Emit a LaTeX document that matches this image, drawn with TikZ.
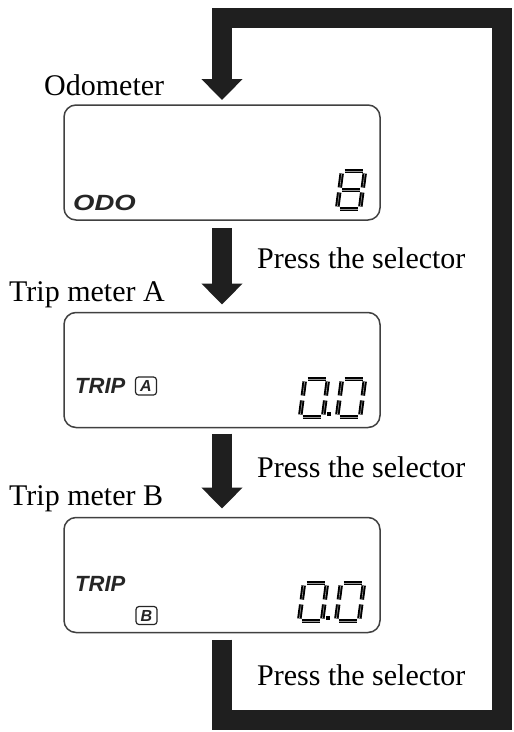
\documentclass[tikz,border=0pt]{standalone}
\usepackage{fontspec}
\setmainfont{Liberation Serif}
\newfontfamily\lcdfont{Liberation Sans}
\usetikzlibrary{arrows.meta}
\tikzset{
  lcd/.style={draw=black!75, line width=1.5pt, rounded corners=12pt, minimum width=316pt, minimum height=115pt, inner sep=0pt, outer sep=0pt},
  caption/.style={anchor=base west, inner sep=0pt, font=\fontsize{30}{31}\selectfont},
  lcdtext/.style={anchor=base west, inner sep=0pt, font=\lcdfont\bfseries\itshape\fontsize{22}{23}\selectfont, text=black!85},
  subbox/.style={draw=black!85, line width=1.2pt, rounded corners=3pt, inner sep=0pt, minimum width=21pt, minimum height=18pt, font=\lcdfont\bfseries\itshape\fontsize{16}{17}\selectfont, text=black!85},
  flow/.style={line width=20pt, draw=black!88, -{Triangle[length=21pt,width=40pt]}},
  seg/.style={draw=black, line width=1.9pt, double=black!40, double distance=0.6pt, line cap=butt}
}
% seven-segment digit: #1,#2 top-left corner; #3 list of segments
\newcommand\segdigit[3]{%
  \begin{scope}[shift={(#1,#2)}, xslant=0.13]
    \foreach \s in {#3}{%
      \ifcase\s
        \draw[seg] (2.5,0) -- (20.5,0);%  0 top
      \or \draw[seg] (0,2.5) -- (0,16.5);% 1 upper left
      \or \draw[seg] (23,2.5) -- (23,16.5);% 2 upper right
      \or \draw[seg] (2.5,19) -- (20.5,19);% 3 middle
      \or \draw[seg] (0,21.5) -- (0,35.5);% 4 lower left
      \or \draw[seg] (23,21.5) -- (23,35.5);% 5 lower right
      \or \draw[seg] (2.5,38) -- (20.5,38);% 6 bottom
      \fi}
  \end{scope}}
\begin{document}
\begin{tikzpicture}[x=1pt, y=-1pt]
\useasboundingbox (0,0) rectangle (514,732);
\fill[white] (0,0) rectangle (514,732);

% display boxes
\node[lcd] (b1) at (222,162.5) {};
\node[lcd] (b2) at (222,370) {};
\node[lcd] (b3) at (222,575) {};

% captions
\node[caption] (t1) at (44,95) {Odometer};
\node[caption] (t2) at (9,301) {Trip meter A};
\node[caption] (t3) at (9,505) {Trip meter B};
\node[caption] (p1) at (257,268) {Press the selector};
\node[caption] (p2) at (257,477) {Press the selector};
\node[caption] (p3) at (257,685) {Press the selector};

% box contents
\node[lcdtext] (odo) at (73,210) {\scalebox{1.25}[1]{ODO}};
\node[lcdtext] (tripa) at (75,393) {TRIP};
\node[subbox] (sa) at (146,386) {A};
\node[lcdtext] (tripb) at (75,591) {TRIP};
\node[subbox] (sb) at (146.5,615.5) {B};

% digits
\segdigit{342}{171}{0,1,2,3,4,5,6}
\segdigit{305}{379}{0,1,2,4,5,6}
\segdigit{342}{379}{0,1,2,4,5,6}
\fill (327,412) rectangle (331,416);
\segdigit{304}{583}{0,1,2,4,5,6}
\segdigit{341}{583}{0,1,2,4,5,6}
\fill (326,616) rectangle (330,620);

% flow arrows
\draw[flow, shorten <=8pt, shorten >=8pt] (b1.south) -- (b2.north);
\draw[flow, shorten <=6pt, shorten >=9pt] (b2.south) -- (b3.north);

% return loop
\coordinate (br) at (502,720);
\coordinate (tr) at (502,18);
\draw[flow, line join=miter, shorten <=7pt, shorten >=5pt] (b3.south) |- (br) -- (tr) -| (b1.north);
\end{tikzpicture}
\end{document}
